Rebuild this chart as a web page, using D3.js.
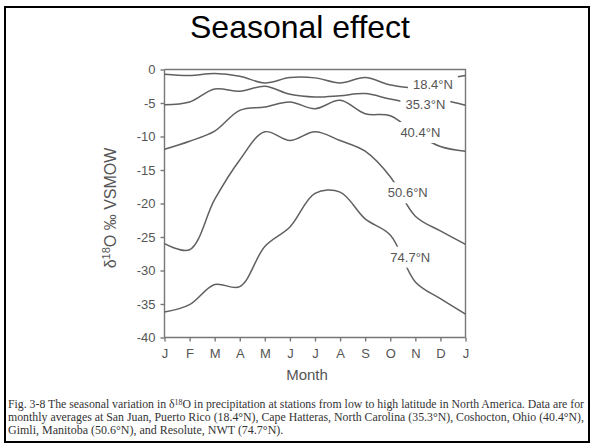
<!DOCTYPE html>
<html>
<head>
<meta charset="utf-8">
<script src="https://cdn.jsdelivr.net/npm/d3@7"></script>
<style>
  body { margin: 0; background: #fff; }
  svg { display: block; }
  .axis path, .axis line { stroke: #777; stroke-width: 1.4; }
  .axis text { fill: #555; font-family: "Liberation Sans", Arial, sans-serif; font-size: 13px; }
</style>
</head>
<body>
<div id="chart"></div>
<script>
// data (monthly values, Jan .. next Jan)
var months = ["J", "F", "M", "A", "M", "J", "J", "A", "S", "O", "N", "D", "J"];
var yTicks = [0, -5, -10, -15, -20, -25, -30, -35, -40];
var stations = ["18.4°N", "35.3°N", "40.4°N", "50.6°N", "74.7°N"];
var lat184 = [-0.7, -0.9, -0.6, -1.0, -2.0, -1.2, -1.25, -2.0, -1.2, -2.3, -2.7, -1.6, -0.9];
var lat353 = [-5.25, -4.85, -2.9, -3.25, -2.5, -3.7, -4.1, -3.9, -3.6, -4.4, -5.0, -4.6, -5.35];
var lat404 = [-11.9, -10.7, -9.2, -6.1, -5.6, -4.85, -5.85, -4.6, -6.6, -6.9, -9.5, -11.5, -12.2];
var lat506 = [-26.0, -26.9, -19.4, -13.5, -9.3, -10.6, -9.3, -10.6, -12.2, -16.0, -21.9, -24.1, -26.1];
var lat747 = [-36.2, -35.1, -32.1, -32.4, -26.4, -23.5, -18.5, -18.3, -22.3, -24.7, -31.7, -34.2, -36.5];
var series = [lat184, lat353, lat404, lat506, lat747];
// where each curve label sits (month index, value)
var labelAt = [[10.7, -2.3], [10.4, -5.2], [10.2, -9.4], [9.7, -18.4], [9.8, -28.0]];

var width = 594, height = 447;
var svg = d3.select("#chart").append("svg")
  .attr("width", width)
  .attr("height", height);

// slide frame
svg.append("rect")
  .attr("x", 5).attr("y", 7)
  .attr("width", 584).attr("height", 435)
  .attr("fill", "none")
  .attr("stroke", "#000")
  .attr("stroke-width", 2);

svg.append("text")
  .attr("x", 300).attr("y", 38)
  .attr("text-anchor", "middle")
  .style("font-family", "'Liberation Sans', Arial, sans-serif")
  .style("font-size", "32px")
  .text("Seasonal effect");

var plotL = 164.5, plotR = 465.5, plotT = 69.5, plotB = 337.5;

var x = d3.scaleLinear().domain([0, 12]).range([plotL, plotR]);
var y = d3.scaleLinear().domain([0, -40]).range([plotT, plotB]);

// box
svg.append("path")
  .attr("d", "M" + plotL + "," + plotT + "H" + plotR + "V" + plotB)
  .attr("fill", "none")
  .attr("stroke", "#777")
  .attr("stroke-width", 1.4);

var yAxis = svg.append("g")
  .attr("class", "axis")
  .attr("transform", "translate(" + plotL + ",0)")
  .call(d3.axisLeft(y).tickValues(yTicks).tickSize(4).tickPadding(5)
    .tickFormat(function(d) { return d === 0 ? "0" : "-" + Math.abs(d); }));

var xAxis = svg.append("g")
  .attr("class", "axis")
  .attr("transform", "translate(0," + plotB + ")")
  .call(d3.axisBottom(x).tickValues(d3.range(13)).tickSize(4).tickPadding(7)
    .tickFormat(function(d) { return months[d]; }));

xAxis.select(".domain").attr("d", "M" + plotL + ",0H" + plotR);
yAxis.select(".domain").attr("d", "M0," + plotT + "V" + plotB);

svg.append("text")
  .attr("x", 307).attr("y", 380)
  .attr("text-anchor", "middle")
  .style("fill", "#555")
  .style("font-family", "'Liberation Sans', Arial, sans-serif")
  .style("font-size", "15px")
  .text("Month");

var ylab = svg.append("text")
  .attr("transform", "translate(116,208) rotate(-90)")
  .attr("text-anchor", "middle")
  .style("fill", "#555")
  .style("font-family", "'Liberation Sans', Arial, sans-serif")
  .style("font-size", "16px");
ylab.append("tspan").text("δ");
ylab.append("tspan").attr("dy", -6).style("font-size", "11px").text("18");
ylab.append("tspan").attr("dy", 6).text("O ‰ VSMOW");

// curves
var line = d3.line()
  .x(function(d, i) { return x(i); })
  .y(function(d) { return y(d); })
  .curve(d3.curveCatmullRom.alpha(0.5));

svg.append("g")
  .selectAll("path")
  .data(series)
  .enter().append("path")
  .attr("d", line)
  .attr("fill", "none")
  .attr("stroke", "#606060")
  .attr("stroke-width", 1.5);

// labels with a white patch behind, which opens the gap in each curve
var labels = svg.append("g")
  .selectAll("g")
  .data(stations)
  .enter().append("g");

labels.append("text")
  .attr("x", function(d, i) { return x(labelAt[i][0]); })
  .attr("y", function(d, i) { return y(labelAt[i][1]); })
  .attr("dy", "0.35em")
  .attr("text-anchor", "middle")
  .style("fill", "#555")
  .style("font-family", "'Liberation Sans', Arial, sans-serif")
  .style("font-size", "13px")
  .text(function(d) { return d; });

labels.each(function() {
  var g = d3.select(this);
  var b = g.select("text").node().getBBox();
  g.insert("rect", "text")
    .attr("x", b.x - 5).attr("y", b.y - 3)
    .attr("width", b.width + 10).attr("height", b.height + 6)
    .attr("fill", "#fff");
});

// caption
var caption = [
  ["Fig. 3-8  The seasonal variation in δ", "18", "O in precipitation at stations from low to high latitude in North America. Data are for"],
  ["monthly averages at San Juan, Puerto Rico (18.4°N), Cape Hatteras, North Carolina (35.3°N), Coshocton, Ohio (40.4°N),"],
  ["Gimli, Manitoba (50.6°N), and Resolute, NWT (74.7°N)."]
];
var cap = svg.append("g")
  .style("font-family", "'Liberation Serif', 'Times New Roman', serif")
  .style("font-size", "12px")
  .style("fill", "#333");

caption.forEach(function(parts, i) {
  var t = cap.append("text")
    .attr("x", 8)
    .attr("y", 408 + i * 13);
  parts.forEach(function(p, j) {
    var s = t.append("tspan").text(p);
    if (j === 1) s.attr("dy", -3.5).style("font-size", "8px");
    if (j === 2) s.attr("dy", 3.5);
  });
  if (i < 2) {
    var w = t.node().getComputedTextLength();
    t.attr("textLength", Math.min(w, 576)).attr("lengthAdjust", "spacingAndGlyphs");
  }
});
</script>
</body>
</html>
